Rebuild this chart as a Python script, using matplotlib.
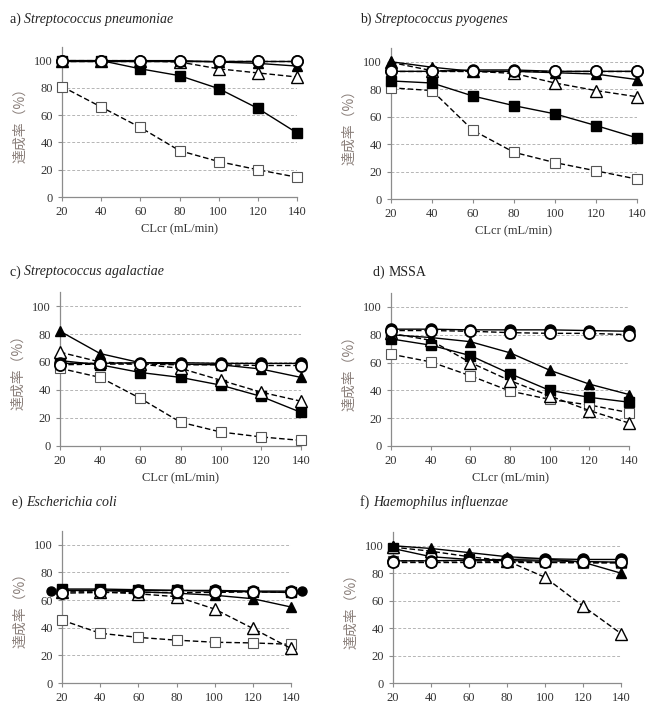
import matplotlib
matplotlib.use('Agg')
import matplotlib.pyplot as plt

plt.rcParams['font.family'] = ['Liberation Serif', 'DejaVu Serif']

# CLcr values (mL/min)
clcr = [20, 40, 60, 80, 100, 120, 140]

# a) S. pneumoniae
a_fc = [100, 100, 100, 100, 100, 100, 100]
a_oc = [100, 100, 100, 100, 100, 100, 100]
a_ft = [100, 100, 100, 100, 99, 98, 96]
a_ot = [100, 100, 100, 99, 94, 91, 88]
a_fs = [100, 100, 94, 89, 79.5, 65, 47]
a_os = [81, 66, 51, 34, 26, 20, 14.5]

# b) S. pyogenes
b_fc = [93, 93, 94, 94, 93, 93, 93]
b_oc = [93, 93, 93, 93, 93, 93, 93]
b_ft = [100, 96, 93, 93, 92, 91, 87]
b_ot = [99.5, 93.5, 93, 91.5, 84.5, 79, 74.5]
b_fs = [86, 84.5, 75, 68, 62, 53.5, 44.5]
b_os = [81, 79, 50, 34, 26.5, 20.5, 14.5]

# c) S. agalactiae
c_fc = [59, 59, 59.5, 59.5, 59, 59, 59]
c_oc = [58, 58.5, 58.5, 58, 58, 57.5, 57.5]
c_ft = [82, 66, 59.5, 58.5, 58, 55, 49]
c_ot = [67, 60, 58.5, 55.5, 47, 38.5, 32]
c_fs = [61, 58, 52.5, 49, 43.5, 35.5, 24]
c_os = [55.5, 49, 34, 17, 10, 6.5, 4]

# d) MSSA
d_fc = [84, 84, 83.5, 83.5, 83.5, 83, 82.5]
d_oc = [83, 83, 82.5, 81.5, 81, 81, 80]
d_ft = [80, 78, 75, 67, 54.5, 44.5, 37]
d_ot = [81, 76, 60, 47, 36, 25.5, 16.5]
d_fs = [77, 72.5, 65, 52, 40, 35, 31.5]
d_os = [66, 60.5, 50.5, 39.5, 33.5, 29.5, 24]

# e) E. coli
e_fc = [67, 67, 67, 67, 67, 66.5, 66.5]
e_oc = [65, 65.5, 65.5, 65.5, 65.5, 66, 65.5]
e_ft = [67, 67, 66, 65, 63.5, 61, 55]
e_ot = [66, 66, 64.5, 62.5, 53.5, 39.5, 25]
e_fs = [68, 68, 67.5, 67, 66.5, 66, 65.5]
e_os = [45.5, 36, 33, 31, 29.5, 29, 28]
e_extra_x = [14, 146]
e_extra_y = [66.5, 66.5]

# f) H. influenzae
f_fc = [89, 89, 89.5, 90, 90.5, 90, 90]
f_oc = [88.5, 88.5, 88.5, 88.5, 88.5, 88.5, 88.5]
f_ft = [100, 98, 95, 92, 90.5, 88, 80]
f_ot = [99, 96, 92, 89, 77, 56, 36]
f_fs = [98, 92, 90, 89, 89, 88.5, 88]
f_os = [89, 89, 89, 88.5, 88, 87.5, 87.5]

labels = ['a)', 'b)', 'c)', 'd)', 'e)', 'f)']
species = ['Streptococcus pneumoniae', 'Streptococcus pyogenes',
           'Streptococcus agalactiae', 'MSSA',
           'Escherichia coli', 'Haemophilus influenzae']
panels = [
    (a_fc, a_oc, a_ft, a_ot, a_fs, a_os),
    (b_fc, b_oc, b_ft, b_ot, b_fs, b_os),
    (c_fc, c_oc, c_ft, c_ot, c_fs, c_os),
    (d_fc, d_oc, d_ft, d_ot, d_fs, d_os),
    (e_fc, e_oc, e_ft, e_ot, e_fs, e_os),
    (f_fc, f_oc, f_ft, f_ot, f_fs, f_os),
]

W, H = 647, 707
# axes boxes in pixels: left, right, top (y=110), bottom (y=0)
boxes = [(62, 297, 47, 197), (391, 637, 48, 199),
         (60, 301, 292, 446), (391, 629, 293, 446),
         (62, 291, 531, 683), (393, 621, 532, 683)]
title_pos = [(10, 19), (360, 19), (10, 272), (373, 272), (12, 502), (360, 502)]

fig = plt.figure(figsize=(W / 100, H / 100), dpi=100)

ylab_color = '#8a7f7a'
tick_color = '#333333'

for i, (data, box) in enumerate(zip(panels, boxes)):
    l, r, t, b = box
    ax = fig.add_axes([l / W, 1 - b / H, (r - l) / W, (b - t) / H])
    fc, oc, ft, ot, fs, os_ = data

    # open square (dashed)
    ax.plot(clcr, os_, ls='--', dashes=(4, 2), color='black', lw=1, marker='s',
            ms=7, mfc='white', mec='#555555', mew=0.8, clip_on=False, zorder=3)
    # filled square (solid)
    ax.plot(clcr, fs, ls='-', color='black', lw=1, marker='s',
            ms=6.5, mfc='black', mec='black', clip_on=False, zorder=4)
    # open triangle (dashed)
    ax.plot(clcr, ot, ls='--', dashes=(4, 2), color='black', lw=1, marker='^',
            ms=8, mfc='white', mec='black', mew=1, clip_on=False, zorder=5)
    # filled triangle (solid)
    ax.plot(clcr, ft, ls='-', color='black', lw=1, marker='^',
            ms=7.5, mfc='black', mec='black', clip_on=False, zorder=6)
    # filled circle (solid)
    ax.plot(clcr, fc, ls='-', color='black', lw=1, marker='o',
            ms=8, mfc='black', mec='black', clip_on=False, zorder=7)
    # open circle (dashed)
    ax.plot(clcr, oc, ls='--', dashes=(4, 2), color='black', lw=1, marker='o',
            ms=8, mfc='white', mec='black', mew=1.3, clip_on=False, zorder=8)

    if i == 4:
        ax.plot(e_extra_x, e_extra_y, ls='none', marker='o', ms=6.5,
                color='black', clip_on=False, zorder=8)

    ax.set_xlim(20, 140)
    ax.set_ylim(0, 110)
    ax.set_xticks(clcr)
    ax.set_yticks([0, 20, 40, 60, 80, 100])
    for yv in [20, 40, 60, 80, 100]:
        ax.axhline(yv, color='#b5b5b5', lw=0.7, ls=(0, (3, 2)), zorder=1)
    for s in ['top', 'right']:
        ax.spines[s].set_visible(False)
    for s in ['left', 'bottom']:
        ax.spines[s].set_color('#8c8c8c')
        ax.spines[s].set_linewidth(0.9)
    ax.tick_params(axis='both', labelsize=9, colors='#8c8c8c',
                   labelcolor=tick_color, length=3, width=0.8)

    ax.set_xlabel('CLcr (mL/min)', fontsize=9, color=tick_color, labelpad=4)
    ax.set_ylabel('達成率（%）', fontsize=10, color=ylab_color,
                  family=['Noto Sans CJK JP', 'DejaVu Sans'], labelpad=5)

    tx, ty = title_pos[i]
    t1 = fig.text(tx / W, 1 - ty / H, labels[i] + ' ', fontsize=10,
                  color='#222222', va='center', ha='left')
    style = 'normal' if species[i] == 'MSSA' else 'italic'
    ax.annotate(species[i], xy=(1, 0.5), xycoords=t1, va='center', ha='left',
                fontsize=10, style=style, color='#222222',
                annotation_clip=False)

fig.savefig('out.png', dpi=100)
